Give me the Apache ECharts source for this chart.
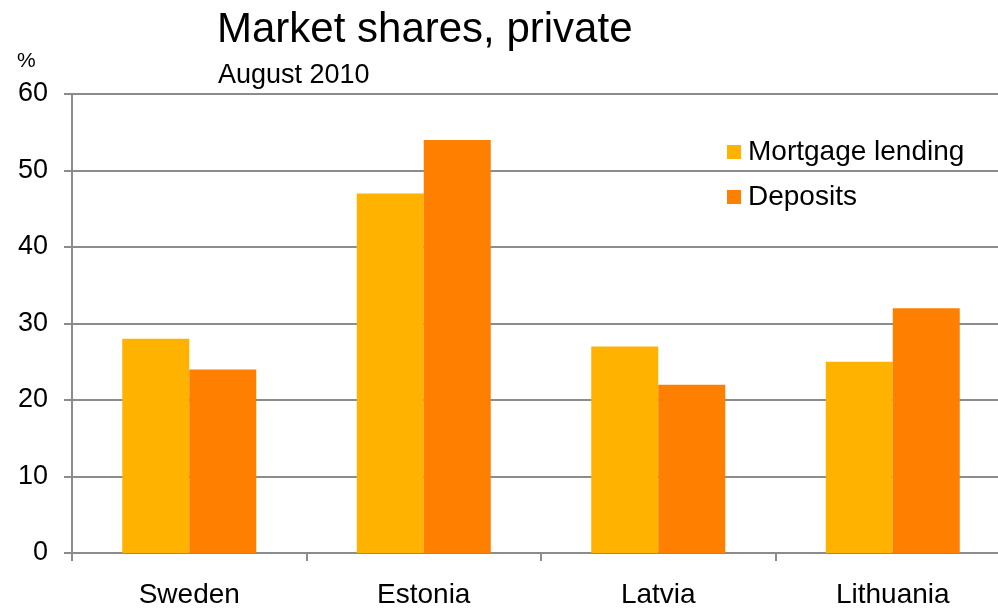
<!DOCTYPE html>
<html><head><meta charset="utf-8">
<script src="https://cdn.jsdelivr.net/npm/echarts@6/dist/echarts.min.js"></script>
<style>html,body{margin:0;padding:0;background:#fff}#c{width:998px;height:609px}</style>
</head><body><div id="c"></div>
<script>
const categories = ["Sweden", "Estonia", "Latvia", "Lithuania"];
const mortgage = [28, 47, 27, 25];
const deposits = [24, 54, 22, 32];
const yTicks = [0, 10, 20, 30, 40, 50, 60];

const chart = echarts.init(document.getElementById('c'));
const font = '"Liberation Sans", Arial, sans-serif';
chart.setOption({
  animation: false,
  backgroundColor: '#fff',
  textStyle: { fontFamily: font },
  title: [
    { text: 'Market shares, private', left: 212, top: 4, textStyle: { fontFamily: font, fontSize: 42, fontWeight: 'normal', color: '#000' } },
    { text: 'August 2010', left: 213, top: 57, textStyle: { fontFamily: font, fontSize: 27, fontWeight: 'normal', color: '#000' } },
    { text: '%', left: 12, top: 46, textStyle: { fontFamily: font, fontSize: 21, fontWeight: 'normal', color: '#000' } }
  ],
  legend: {
    orient: 'vertical', left: 722, top: 133, itemWidth: 14, itemHeight: 14, itemGap: 17,
    icon: 'rect',
    textStyle: { fontFamily: font, fontSize: 28, color: '#000', padding: [0, 0, 0, 2] },
    data: ['Mortgage lending', 'Deposits']
  },
  grid: { left: 72, width: 938, top: 94, bottom: 56, containLabel: false, outerBoundsMode: 'none' },
  xAxis: {
    type: 'category', data: categories,
    axisLine: { lineStyle: { color: '#8c8c8c', width: 2 } },
    axisTick: { show: true, length: 8, lineStyle: { color: '#8c8c8c', width: 2 } },
    axisLabel: { color: '#000', fontSize: 28, margin: 28, fontFamily: font }
  },
  yAxis: {
    type: 'value', min: yTicks[0], max: yTicks[yTicks.length - 1], interval: 10,
    axisLine: { show: true, lineStyle: { color: '#8c8c8c', width: 2 } },
    axisTick: { show: true, length: 8, lineStyle: { color: '#8c8c8c', width: 2 } },
    axisLabel: { color: '#000', fontSize: 27, margin: 24, fontFamily: font },
    splitLine: { lineStyle: { color: '#8c8c8c', width: 2 } }
  },
  series: [
    { name: 'Mortgage lending', type: 'bar', data: mortgage, barWidth: 67, barGap: '0%', itemStyle: { color: '#FFB300' } },
    { name: 'Deposits', type: 'bar', data: deposits, barWidth: 67, itemStyle: { color: '#FF8000' } }
  ]
});
</script></body></html>
